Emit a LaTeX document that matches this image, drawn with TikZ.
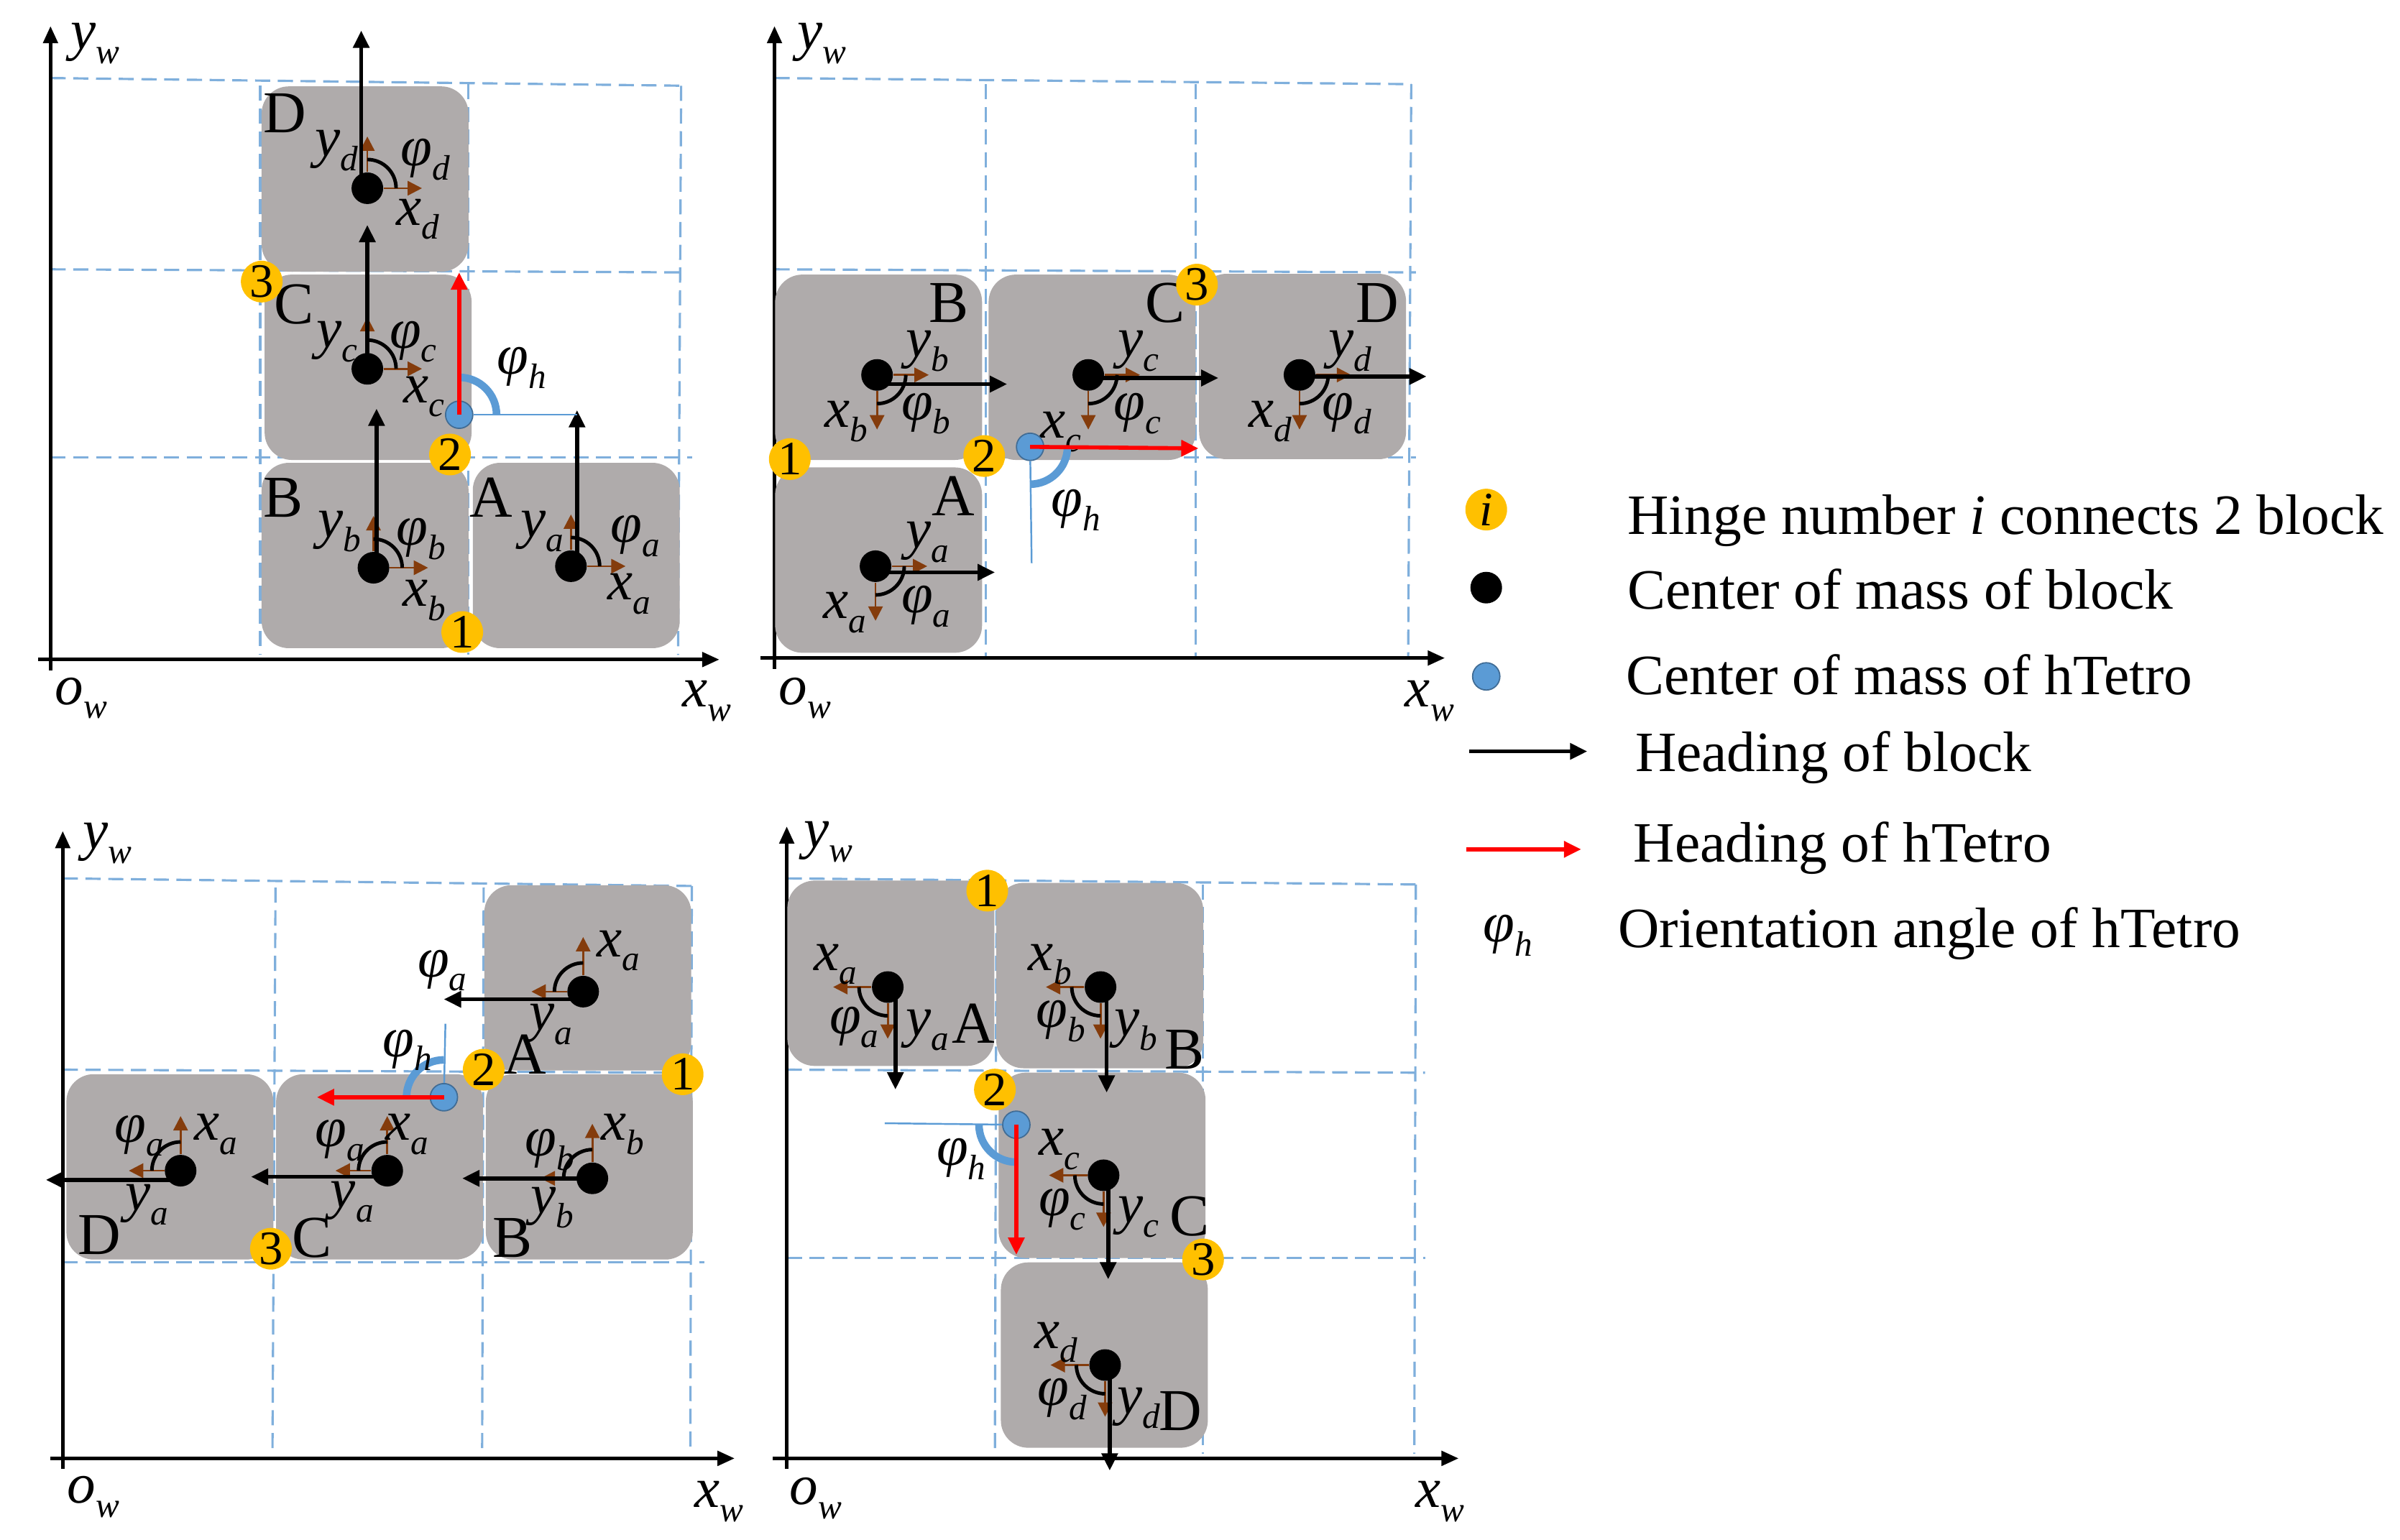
\documentclass[tikz,border=0pt]{standalone}
\usepackage{fontspec}
\setmainfont{Liberation Serif}
\usepackage{xcolor}
\usetikzlibrary{arrows.meta, calc, positioning}

\definecolor{blockgray}{HTML}{AFABAB}
\definecolor{hingeyellow}{HTML}{FFC000}
\definecolor{comblue}{HTML}{5B9BD5}
\definecolor{axisbrown}{HTML}{843C0C}
\definecolor{gridblue}{HTML}{7FAFDC}

\tikzset{
  blockbox/.style={fill=blockgray, rounded corners=0.38cm, inner sep=0pt, minimum width=2.88cm, minimum height=2.58cm},
  hinge/.style={circle, fill=hingeyellow, inner sep=0pt, minimum size=0.58cm, font=\fontsize{19}{19}\selectfont},
  massdot/.style={circle, fill=black, inner sep=0pt, minimum size=0.44cm},
  tetrodot/.style={circle, fill=comblue, draw=comblue!70!black, line width=0.5pt, inner sep=0pt, minimum size=0.38cm},
  gridline/.style={gridblue, line width=0.9pt, dash pattern=on 6pt off 3pt},
  axisline/.style={-{Triangle[length=0.24cm, width=0.2cm]}, line width=1.5pt},
  heading/.style={-{Triangle[length=0.24cm, width=0.22cm]}, line width=1.6pt},
  tetroheading/.style={-{Triangle[length=0.24cm, width=0.22cm]}, line width=1.6pt, red},
  localaxis/.style={-{Triangle[length=0.2cm, width=0.2cm]}, line width=0.8pt, axisbrown},
  anglearc/.style={line width=1.4pt},
  tetroarc/.style={line width=3pt, comblue},
  reflinethin/.style={line width=0.7pt, comblue},
  mathtext/.style={inner sep=0pt, yshift=-0.07cm, font=\fontsize{22.5}{26}\selectfont\itshape},
  blockname/.style={inner sep=0pt, font=\fontsize{23.5}{26}\selectfont},
  legendtext/.style={inner sep=0pt, anchor=west, font=\fontsize{22.6}{26}\selectfont}
}

% letter with a small lowered index
\newcommand{\lb}[2]{#1\raisebox{-0.25em}{\fontsize{14}{14}\selectfont #2}}

% brown axes and angle of one block: centre name, direction of its x axis
\newcommand{\blockframe}[2]{
  \draw[localaxis] (#1) -- ++(#2:0.76cm);
  \draw[localaxis] (#1) -- ++(#2+90:0.72cm);
  \draw[anglearc] (#1.center) ++(#2+90:0.4cm) arc[start angle=#2+90, end angle=#2, radius=0.4cm];
}
\newcommand{\tetroangle}[2]{
  \draw[tetroarc] (#1.center) ++(#2+90:0.52cm) arc[start angle=#2+90, end angle=#2, radius=0.52cm];
}

\begin{document}
\begin{tikzpicture}[x=0.021295cm, y=-0.021302cm]
  \useasboundingbox (0,0) rectangle (1568,1006);

  % --- Panel 1: heading up ---
  \draw[gridline] (33,51) -- (445,56);
  \draw[gridline] (33,176) -- (447,178);
  \draw[gridline] (33,299) -- (452,299);
  \draw[gridline] (170,56) -- (170,428);
  \draw[gridline] (306,55) -- (306,428);
  \draw[gridline] (445,56) -- (443,428);
  \coordinate (xs1) at (25,431);
  \coordinate (xe1) at (470,431);
  \coordinate (ys1) at (33,438);
  \coordinate (ye1) at (33,17);
  \draw[axisline] (xs1) -- (xe1);
  \draw[axisline] (ys1) -- (ye1);
  \node[mathtext] (yw1) at (62,25) {\lb{y}{w}};
  \node[mathtext] (ow1) at (53,453) {\lb{o}{w}};
  \node[mathtext] (xw1) at (462,455) {\lb{x}{w}};

  \node[blockbox] (boxD1) at (238.5,117) {};
  \node[blockbox] (boxC1) at (240.5,240) {};
  \node[blockbox] (boxB1) at (238.5,363) {};
  \node[blockbox] (boxA1) at (376.5,363) {};
  \node[massdot] (comD1) at (240,123) {};
  \node[massdot] (comC1) at (240,241) {};
  \node[massdot] (comB1) at (244,371) {};
  \node[massdot] (comA1) at (373,370) {};
  \blockframe{comD1}{0}
  \blockframe{comC1}{0}
  \blockframe{comB1}{0}
  \blockframe{comA1}{0}
  \coordinate (tipD1) at (236,20);
  \coordinate (tipC1) at (240,147);
  \coordinate (tipB1) at (246,267);
  \coordinate (tipA1) at (377,268);
  \draw[heading] (tipD1 |- comD1) -- (tipD1);
  \draw[heading] (tipC1 |- comC1) -- (tipC1);
  \draw[heading] (tipB1 |- comB1) -- (tipB1);
  \draw[heading] (tipA1 |- comA1) -- (tipA1);

  \node[blockname] (nameD1) at (186,74) {D};
  \node[blockname] (nameC1) at (192,199) {C};
  \node[blockname] (nameB1) at (185,325) {B};
  \node[blockname] (nameA1) at (321,325) {A};
  \node[mathtext] (yD1) at (220,95) {\lb{y}{d}};
  \node[mathtext] (phiD1) at (278,101) {\lb{φ}{d}};
  \node[mathtext] (xD1) at (273,140) {\lb{x}{d}};
  \node[mathtext] (yC1) at (220,220) {\lb{y}{c}};
  \node[mathtext] (phiC1) at (270,220) {\lb{φ}{c}};
  \node[mathtext] (xC1) at (277,256) {\lb{x}{c}};
  \node[mathtext] (yB1) at (222,344) {\lb{y}{b}};
  \node[mathtext] (phiB1) at (275,349) {\lb{φ}{b}};
  \node[mathtext] (xB1) at (277,389) {\lb{x}{b}};
  \node[mathtext] (yA1) at (354,344) {\lb{y}{a}};
  \node[mathtext] (phiA1) at (415,347) {\lb{φ}{a}};
  \node[mathtext] (xA1) at (411,385) {\lb{x}{a}};

  \node[tetrodot] (tet1) at (300,271) {};
  \coordinate (redtip1) at (300,178);
  \draw[reflinethin] (tet1) -- (tipA1 |- tet1);
  \tetroangle{tet1}{0}
  \draw[tetroheading] (tet1.center) -- (redtip1);
  \node[mathtext] (phiH1) at (341,237) {\lb{φ}{h}};
  \node[hinge] (hingeC1) at (171,184) {3};
  \node[hinge] (hingeB1) at (294,297) {2};
  \node[hinge] (hingeA1) at (302,413) {1};

  % --- Panel 2: heading right ---
  \draw[gridline] (506,51) -- (922,55);
  \draw[gridline] (506,176) -- (925,178);
  \draw[gridline] (506,299) -- (925,299);
  \draw[gridline] (644,55) -- (644,430);
  \draw[gridline] (781,55) -- (781,430);
  \draw[gridline] (922,55) -- (920,430);
  \coordinate (xs2) at (497,430);
  \coordinate (xe2) at (944,430);
  \coordinate (ys2) at (506,437);
  \coordinate (ye2) at (506,17);
  \draw[axisline] (xs2) -- (xe2);
  \draw[axisline] (ys2) -- (ye2);
  \node[mathtext] (yw2) at (537,25) {\lb{y}{w}};
  \node[mathtext] (ow2) at (526,453) {\lb{o}{w}};
  \node[mathtext] (xw2) at (934,455) {\lb{x}{w}};

  \node[blockbox] (boxB2) at (574,240) {};
  \node[blockbox] (boxC2) at (713.5,240) {};
  \node[blockbox] (boxD2) at (851,239.5) {};
  \node[blockbox] (boxA2) at (574,366) {};
  \node[massdot] (comB2) at (573,245) {};
  \node[massdot] (comC2) at (711,245) {};
  \node[massdot] (comD2) at (849,245) {};
  \node[massdot] (comA2) at (572,370) {};
  \blockframe{comB2}{-90}
  \blockframe{comC2}{-90}
  \blockframe{comD2}{-90}
  \blockframe{comA2}{-90}
  \coordinate (tipB2) at (658,251);
  \coordinate (tipC2) at (796,247);
  \coordinate (tipD2) at (932,246);
  \coordinate (tipA2) at (650,374);
  \draw[heading] (comB2 |- tipB2) -- (tipB2);
  \draw[heading] (comC2 |- tipC2) -- (tipC2);
  \draw[heading] (comD2 |- tipD2) -- (tipD2);
  \draw[heading] (comA2 |- tipA2) -- (tipA2);

  \node[blockname] (nameB2) at (620,198) {B};
  \node[blockname] (nameC2) at (761,198) {C};
  \node[blockname] (nameD2) at (900,198) {D};
  \node[blockname] (nameA2) at (623,324) {A};
  \node[mathtext] (yB2) at (606,226) {\lb{y}{b}};
  \node[mathtext] (xB2) at (553,272) {\lb{x}{b}};
  \node[mathtext] (phiB2) at (605,267) {\lb{φ}{b}};
  \node[mathtext] (yC2) at (744,226) {\lb{y}{c}};
  \node[mathtext] (xC2) at (693,279) {\lb{x}{c}};
  \node[mathtext] (phiC2) at (743,267) {\lb{φ}{c}};
  \node[mathtext] (yD2) at (882,226) {\lb{y}{d}};
  \node[mathtext] (xD2) at (830,272) {\lb{x}{d}};
  \node[mathtext] (phiD2) at (880,267) {\lb{φ}{d}};
  \node[mathtext] (yA2) at (606,351) {\lb{y}{a}};
  \node[mathtext] (xA2) at (552,397) {\lb{x}{a}};
  \node[mathtext] (phiA2) at (605,393) {\lb{φ}{a}};

  \node[tetrodot] (tet2) at (673,292) {};
  \coordinate (redtip2) at (783,293);
  \coordinate (refend2) at (674,368);
  \draw[reflinethin] (tet2) -- (refend2);
  \tetroangle{tet2}{-90}
  \draw[tetroheading] (tet2.center) -- (redtip2);
  \node[mathtext] (phiH2) at (703,330) {\lb{φ}{h}};
  \node[hinge] (hingeA2) at (516,300) {1};
  \node[hinge] (hingeB2) at (643,298) {2};
  \node[hinge] (hingeC2) at (782,186) {3};

  % --- Panel 3: heading left ---
  \draw[gridline] (41,574) -- (454,579);
  \draw[gridline] (41,699) -- (458,701);
  \draw[gridline] (41,825) -- (460,825);
  \draw[gridline] (180,580) -- (178,950);
  \draw[gridline] (316,580) -- (315,950);
  \draw[gridline] (452,579) -- (451,950);
  \coordinate (xs3) at (33,953);
  \coordinate (xe3) at (480,953);
  \coordinate (ys3) at (41,960);
  \coordinate (ye3) at (41,543);
  \draw[axisline] (xs3) -- (xe3);
  \draw[axisline] (ys3) -- (ye3);
  \node[mathtext] (yw3) at (70,548) {\lb{y}{w}};
  \node[mathtext] (ow3) at (61,975) {\lb{o}{w}};
  \node[mathtext] (xw3) at (470,978) {\lb{x}{w}};

  \node[blockbox] (boxA3) at (384,639) {};
  \node[blockbox] (boxD3) at (111,762.5) {};
  \node[blockbox] (boxC3) at (248,762.5) {};
  \node[blockbox] (boxB3) at (385,762.5) {};
  \node[massdot] (comA3) at (381,648) {};
  \node[massdot] (comB3) at (387,770) {};
  \node[massdot] (comC3) at (253,765) {};
  \node[massdot] (comD3) at (118,765) {};
  \blockframe{comA3}{90}
  \blockframe{comB3}{90}
  \blockframe{comC3}{90}
  \blockframe{comD3}{90}
  \coordinate (tipA3) at (290,653);
  \coordinate (tipB3) at (302,770);
  \coordinate (tipC3) at (164,769);
  \coordinate (tipD3) at (30,771);
  \draw[heading] (comA3 |- tipA3) -- (tipA3);
  \draw[heading] (comB3 |- tipB3) -- (tipB3);
  \draw[heading] (comC3 |- tipC3) -- (tipC3);
  \draw[heading] (comD3 |- tipD3) -- (tipD3);

  \node[blockname] (nameA3) at (343,689) {A};
  \node[blockname] (nameB3) at (335,809) {B};
  \node[blockname] (nameC3) at (204,809) {C};
  \node[blockname] (nameD3) at (65,807) {D};
  \node[mathtext] (xA3) at (404,618) {\lb{x}{a}};
  \node[mathtext] (yA3) at (360,666) {\lb{y}{a}};
  \node[mathtext] (phiA3) at (289,631) {\lb{φ}{a}};
  \node[mathtext] (xC3) at (266,738) {\lb{x}{a}};
  \node[mathtext] (yC3) at (230,782) {\lb{y}{a}};
  \node[mathtext] (phiC3) at (222,742) {\lb{φ}{a}};
  \node[mathtext] (xD3) at (141,738) {\lb{x}{a}};
  \node[mathtext] (yD3) at (96,784) {\lb{y}{a}};
  \node[mathtext] (phiD3) at (91,739) {\lb{φ}{a}};
  \node[mathtext] (xB3) at (407,738) {\lb{x}{b}};
  \node[mathtext] (yB3) at (361,786) {\lb{y}{b}};
  \node[mathtext] (phiB3) at (359,748) {\lb{φ}{b}};

  \node[tetrodot] (tet3) at (290,717) {};
  \coordinate (redtip3) at (207,717);
  \coordinate (refend3) at (291,669);
  \draw[reflinethin] (tet3) -- (refend3);
  \tetroangle{tet3}{90}
  \draw[tetroheading] (tet3.center) -- (redtip3);
  \node[mathtext] (phiH3) at (266,683) {\lb{φ}{h}};
  \node[hinge] (hingeB3) at (316,699) {2};
  \node[hinge] (hingeA3) at (446,702) {1};
  \node[hinge] (hingeC3) at (177,816) {3};

  % --- Panel 4: heading down ---
  \draw[gridline] (514,574) -- (926,578);
  \draw[gridline] (514,699) -- (931,701);
  \draw[gridline] (514,822) -- (931,822);
  \draw[gridline] (651,580) -- (650,950);
  \draw[gridline] (786,578) -- (786,950);
  \draw[gridline] (925,578) -- (924,950);
  \coordinate (xs4) at (505,953);
  \coordinate (xe4) at (953,953);
  \coordinate (ys4) at (514,960);
  \coordinate (ye4) at (514,540);
  \draw[axisline] (xs4) -- (xe4);
  \draw[axisline] (ys4) -- (ye4);
  \node[mathtext] (yw4) at (541,547) {\lb{y}{w}};
  \node[mathtext] (ow4) at (533,976) {\lb{o}{w}};
  \node[mathtext] (xw4) at (941,978) {\lb{x}{w}};

  \node[blockbox] (boxA4) at (582,636) {};
  \node[blockbox] (boxB4) at (718.5,637.5) {};
  \node[blockbox] (boxC4) at (720,761.5) {};
  \node[blockbox] (boxD4) at (721.5,885.5) {};
  \node[massdot] (comA4) at (580,645) {};
  \node[massdot] (comB4) at (719,645) {};
  \node[massdot] (comC4) at (721,768) {};
  \node[massdot] (comD4) at (722,892) {};
  \blockframe{comA4}{180}
  \blockframe{comB4}{180}
  \blockframe{comC4}{180}
  \blockframe{comD4}{180}
  \coordinate (tipA4) at (585,712);
  \coordinate (tipB4) at (723,714);
  \coordinate (tipC4) at (724,836);
  \coordinate (tipD4) at (725,961);
  \draw[heading] (tipA4 |- comA4) -- (tipA4);
  \draw[heading] (tipB4 |- comB4) -- (tipB4);
  \draw[heading] (tipC4 |- comC4) -- (tipC4);
  \draw[heading] (tipD4 |- comD4) -- (tipD4);

  \node[blockname] (nameA4) at (636,669) {A};
  \node[blockname] (nameB4) at (774,686) {B};
  \node[blockname] (nameC4) at (777,795) {C};
  \node[blockname] (nameD4) at (771,922) {D};
  \node[mathtext] (xA4) at (546,627) {\lb{x}{a}};
  \node[mathtext] (yA4) at (606,670) {\lb{y}{a}};
  \node[mathtext] (phiA4) at (558,668) {\lb{φ}{a}};
  \node[mathtext] (xB4) at (686,627) {\lb{x}{b}};
  \node[mathtext] (yB4) at (742,670) {\lb{y}{b}};
  \node[mathtext] (phiB4) at (693,664) {\lb{φ}{b}};
  \node[mathtext] (xC4) at (692,748) {\lb{x}{c}};
  \node[mathtext] (yC4) at (744,792) {\lb{y}{c}};
  \node[mathtext] (phiC4) at (694,787) {\lb{φ}{c}};
  \node[mathtext] (xD4) at (690,874) {\lb{x}{d}};
  \node[mathtext] (yD4) at (744,917) {\lb{y}{d}};
  \node[mathtext] (phiD4) at (694,911) {\lb{φ}{d}};

  \node[tetrodot] (tet4) at (664,735) {};
  \coordinate (redtip4) at (664,820);
  \coordinate (refend4) at (578,734);
  \draw[reflinethin] (tet4) -- (refend4);
  \tetroangle{tet4}{180}
  \draw[tetroheading] (tet4.center) -- (redtip4);
  \node[mathtext] (phiH4) at (628,754) {\lb{φ}{h}};
  \node[hinge] (hingeA4) at (645,582) {1};
  \node[hinge] (hingeB4) at (650,712) {2};
  \node[hinge] (hingeC4) at (786,823) {3};

  % --- Legend ---
  \node[hinge] (keyhinge) at (971,333) {\textit{i}};
  \node[massdot] (keymass) at (971,384) {};
  \node[tetrodot] (keytetro) at (971,442) {};
  \coordinate (keyhs) at (960,491);
  \coordinate (keyhe) at (1037,491);
  \coordinate (keyrs) at (958,555);
  \coordinate (keyre) at (1033,555);
  \draw[heading] (keyhs) -- (keyhe);
  \draw[tetroheading] (keyrs) -- (keyre);
  \node[mathtext] (keyphi) at (985,608) {\lb{φ}{h}};
  \node[legendtext] (text1) at (1063,340) {Hinge number \textit{i} connects 2 block};
  \node[legendtext] (text2) at (1063,385) {Center of mass of block};
  \node[legendtext] (text3) at (1062,441) {Center of mass of hTetro};
  \node[legendtext] (text4) at (1068,495) {Heading of block};
  \node[legendtext] (text5) at (1067,554) {Heading of hTetro};
  \node[legendtext] (text6) at (1057,610) {Orientation angle of hTetro};
\end{tikzpicture}
\end{document}
